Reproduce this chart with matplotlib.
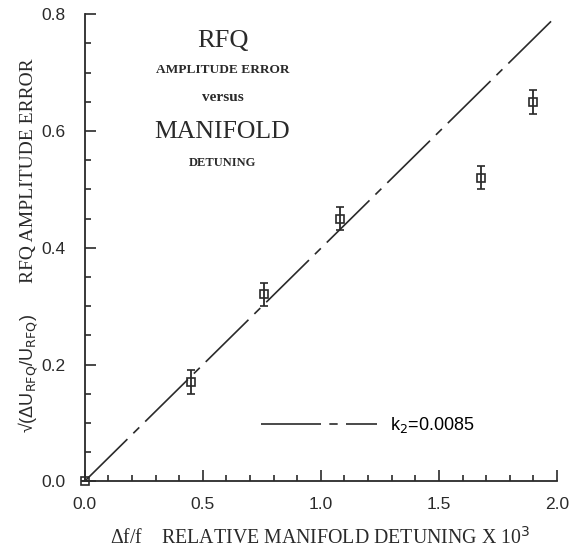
import numpy as np
import matplotlib.pyplot as plt
from matplotlib.ticker import MultipleLocator

# measured points (detuning x 1e3, sqrt amplitude error)
detuning = [0.0, 0.45, 0.76, 1.08, 1.68, 1.90]
amp_error = [0.0, 0.17, 0.32, 0.45, 0.52, 0.65]
err = [0.0, 0.02, 0.02, 0.02, 0.02, 0.02]

# fitted line k2=0.0085
fit_x = [0.0, 1.98]
fit_y = [0.0, 0.79]

serif = 'Liberation Serif'
sans = 'Liberation Sans'
ink = '#2a2a2a'

fig = plt.figure(figsize=(5.76, 5.5), dpi=100)
ax = fig.add_axes([0.147, 0.125, 0.820, 0.849])

ax.plot(fit_x, fit_y, color=ink, lw=1.2, dashes=(36, 5, 5, 5),
        label='k$_2$=0.0085')
ax.errorbar(detuning, amp_error, yerr=err, fmt='s', mfc='none', mec=ink,
            ms=5.5, mew=1.2, ecolor=ink, elinewidth=1.3, capsize=3, capthick=1.3,
            clip_on=False, zorder=3)

ax.set_xlim(0, 2.0)
ax.set_ylim(0, 0.8)
ax.spines['top'].set_visible(False)
ax.spines['right'].set_visible(False)
for s in ['left', 'bottom']:
    ax.spines[s].set_linewidth(1.3)
    ax.spines[s].set_color(ink)

ax.xaxis.set_major_locator(MultipleLocator(0.5))
ax.xaxis.set_minor_locator(MultipleLocator(0.1))
ax.yaxis.set_major_locator(MultipleLocator(0.2))
ax.yaxis.set_minor_locator(MultipleLocator(0.05))
ax.tick_params(which='both', direction='in', color=ink, width=1.2)
ax.tick_params(which='major', length=8)
ax.tick_params(which='minor', length=4)
ax.tick_params(axis='both', labelsize=12.5, labelcolor=ink)
ax.tick_params(axis='x', pad=11)
ax.tick_params(axis='y', pad=14)
for lbl in ax.get_xticklabels() + ax.get_yticklabels():
    lbl.set_fontfamily(sans)
ax.xaxis.set_major_formatter(plt.FuncFormatter(lambda v, p: f'{v:.1f}'))
ax.yaxis.set_major_formatter(plt.FuncFormatter(lambda v, p: f'{v:.1f}'))

# axis labels
fig.text(0.556, 0.022, 'Δf/f    RELATIVE MANIFOLD DETUNING X 10$^3$',
         family=serif, fontsize=14.3, color=ink, ha='center', va='center')
fig.text(0.049, 0.69, 'RFQ AMPLITUDE ERROR', family=serif, fontsize=14,
         color=ink, rotation=90, ha='center', va='center')
fig.text(0.049, 0.32, r'√(ΔU$_{\rm RFQ}$/U$_{\rm RFQ}$)', family=sans,
         fontsize=13, color=ink, rotation=90, ha='center', va='center')

# title block inside the axes
tx = 0.292
ax.text(tx, 0.943, 'RFQ', transform=ax.transAxes, family=serif, fontsize=19,
        color=ink, ha='center', va='center')
ax.text(tx, 0.88, 'AMPLITUDE ERROR', transform=ax.transAxes, family=serif,
        fontsize=9.6, weight='bold', color=ink, ha='center', va='center')
ax.text(tx, 0.821, 'versus', transform=ax.transAxes, family=serif,
        fontsize=11, weight='bold', color=ink, ha='center', va='center')
ax.text(tx, 0.748, 'MANIFOLD', transform=ax.transAxes, family=serif, fontsize=18.5,
        color=ink, ha='center', va='center')
ax.text(tx, 0.682, 'DETUNING', transform=ax.transAxes, family=serif,
        fontsize=9, weight='bold', color=ink, ha='center', va='center')

ax.legend(loc='center left', bbox_to_anchor=(0.374, 0.12), frameon=False,
          handlelength=6.4, handletextpad=0.7, borderaxespad=0, borderpad=0,
          prop={'family': sans, 'size': 13})

fig.savefig('out.png', dpi=100)
